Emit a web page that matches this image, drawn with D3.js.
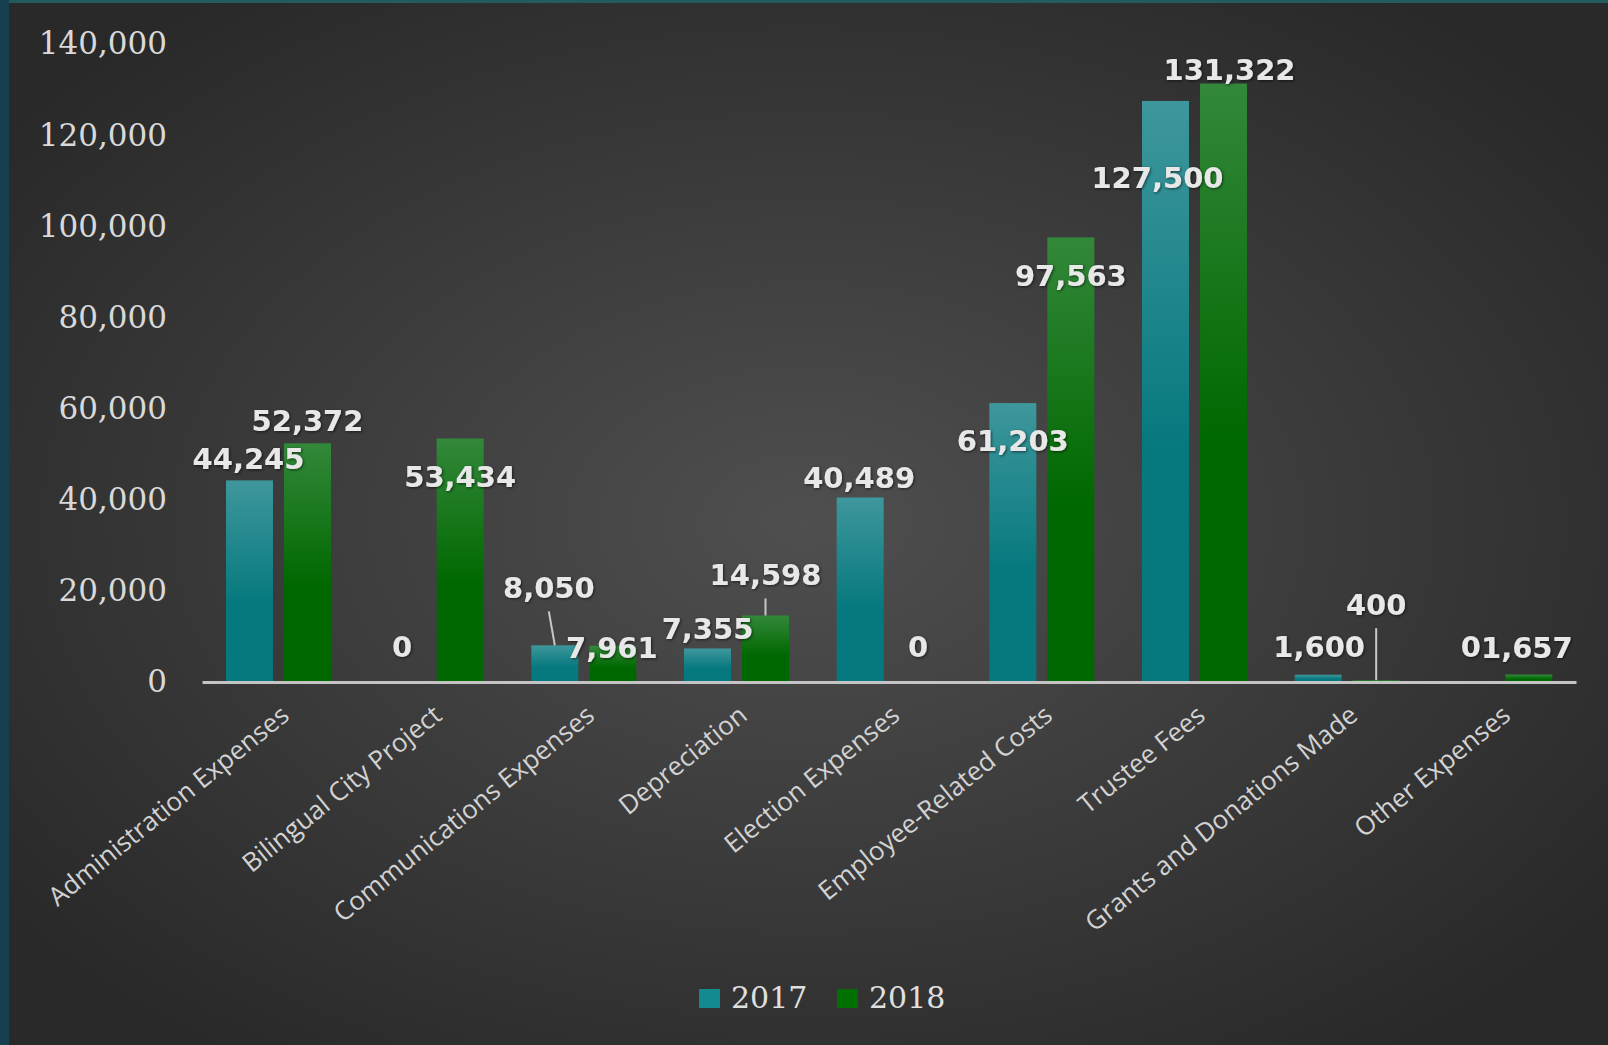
<!DOCTYPE html>
<html>
<head>
<meta charset="utf-8">
<script src="https://cdn.jsdelivr.net/npm/d3@7"></script>
<style>
  body { margin: 0; background: #2b2b2b; }
  svg { display: block; }
</style>
</head>
<body>
<svg id="chart" width="1608" height="1045"></svg>
<script>
var categories = ["Administration Expenses", "Bilingual City Project", "Communications Expenses",
    "Depreciation", "Election Expenses", "Employee-Related Costs", "Trustee Fees",
    "Grants and Donations Made", "Other Expenses"];
var series = ["2017", "2018"];
var values2017 = [44245, 0, 8050, 7355, 40489, 61203, 127500, 1600, 0];
var values2018 = [52372, 53434, 7961, 14598, 0, 97563, 131322, 400, 1657];
var yTicks = [0, 20000, 40000, 60000, 80000, 100000, 120000, 140000];

// label nudges (dx, dy from bar top, leader line) - Excel labels were dragged by hand
var nudge2017 = [[-1, -22], [0, -35], [-6, -58, true], [0, -20], [-1, -20], [0, 37], [-8, 77], [1, -28], [0, -35]];
var nudge2018 = [[0, -23], [0, 38], [-1, 2], [0, -41, true], [0, -35], [0, 38], [6, -14], [0, -76, true], [-2, -27]];

var svg = d3.select("#chart");
var width = 1608, height = 1045;
var defs = svg.append("defs");

var bg = defs.append("radialGradient").attr("id", "bg")
    .attr("cx", "50%").attr("cy", "50%").attr("r", "62%");
bg.append("stop").attr("offset", "0%").attr("stop-color", "#4f4f4f");
bg.append("stop").attr("offset", "100%").attr("stop-color", "#292929");

function barGrad(id, top, bottom) {
    var g = defs.append("linearGradient").attr("id", id)
        .attr("x1", 0).attr("y1", 0).attr("x2", 0).attr("y2", 1);
    g.append("stop").attr("offset", "0%").attr("stop-color", top);
    g.append("stop").attr("offset", "60%").attr("stop-color", bottom);
    g.append("stop").attr("offset", "100%").attr("stop-color", bottom);
}
barGrad("g2017", "#3e979c", "#06797e");
barGrad("g2018", "#33883a", "#006800");

var shadow = defs.append("filter").attr("id", "shadow")
    .attr("x", "-10%").attr("y", "-20%").attr("width", "130%").attr("height", "150%");
shadow.append("feDropShadow").attr("dx", 1).attr("dy", 1).attr("stdDeviation", 1.5)
    .attr("flood-color", "#000").attr("flood-opacity", 0.6);

svg.append("rect").attr("width", width).attr("height", height).attr("fill", "url(#bg)");
svg.append("rect").attr("width", 9).attr("height", height).attr("fill", "#163f4f");
svg.append("rect").attr("x", 9).attr("width", width - 9).attr("height", 3).attr("fill", "#245c5e");

var y = d3.scaleLinear().domain([0, 140000]).range([682, 44]);
var x0 = d3.scaleBand().domain(categories).range([202, 1576]);
var x1 = d3.scaleBand().domain(series).range([24, 129]).paddingInner(0.19);
var fmt = d3.format(",");

// y axis labels (no gridlines in the original)
var yAxis = d3.axisLeft(y).tickValues(yTicks).tickFormat(fmt).tickSize(0).tickPadding(0);
var yg = svg.append("g").attr("transform", "translate(167,0)").call(yAxis);
yg.select(".domain").remove();
yg.selectAll("text")
    .attr("fill", "#d9d9d9")
    .style("font-family", "'DejaVu Serif'")
    .style("font-size", "31px");

// bars
var data = [values2017, values2018];
var groups = svg.selectAll(".cat").data(categories).enter().append("g")
    .attr("class", "cat")
    .attr("transform", function(d) { return "translate(" + x0(d) + ",0)"; });

groups.selectAll("rect").data(function(d, i) {
    return series.map(function(s, j) { return {s: s, v: data[j][i]}; });
}).enter().append("rect")
    .attr("x", function(d) { return x1(d.s); })
    .attr("y", function(d) { return y(d.v); })
    .attr("width", x1.bandwidth())
    .attr("height", function(d) { return y(0) - y(d.v); })
    .attr("fill", function(d) { return "url(#g" + d.s + ")"; });

// x axis
var xAxis = d3.axisBottom(x0).tickSize(0).tickFormat("");
var xg = svg.append("g").attr("transform", "translate(0," + y(0) + ")").call(xAxis);
xg.select(".domain").attr("stroke", "#c4c4c4").attr("stroke-width", 3);

svg.selectAll(".catlabel").data(categories).enter().append("text")
    .attr("class", "catlabel")
    .attr("transform", function(d) {
        return "translate(" + (x0(d) + x0.bandwidth() / 2 + 1) + ",704) rotate(-39)";
    })
    .attr("text-anchor", "end")
    .attr("dy", "0.7em")
    .attr("fill", "#d2d2d2")
    .style("font-family", "'Open Sans'")
    .style("font-size", "26px")
    .text(function(d) { return d; });

// data labels
var labels = [];
categories.forEach(function(c, i) {
    series.forEach(function(s, j) {
        var v = data[j][i];
        var n = (j === 0 ? nudge2017 : nudge2018)[i];
        var bx = x0(c) + x1(s) + x1.bandwidth() / 2;
        labels.push({v: v, bx: bx, by: y(v), x: bx + n[0], y: y(v) + n[1], leader: n[2]});
    });
});

svg.selectAll(".leader").data(labels.filter(function(d) { return d.leader; })).enter()
    .append("line")
    .attr("x1", function(d) { return d.x; })
    .attr("y1", function(d) { return d.y + 24; })
    .attr("x2", function(d) { return d.bx; })
    .attr("y2", function(d) { return d.by; })
    .attr("stroke", "#c8c8c8").attr("stroke-width", 2);

svg.selectAll(".vlabel").data(labels).enter().append("text")
    .attr("class", "vlabel")
    .attr("x", function(d) { return d.x; })
    .attr("y", function(d) { return d.y; })
    .attr("dy", "0.36em")
    .attr("text-anchor", "middle")
    .attr("fill", "#e8e8e8")
    .attr("filter", "url(#shadow)")
    .style("font-family", "'DejaVu Sans'")
    .style("font-weight", "bold")
    .style("font-size", "29px")
    .text(function(d) { return fmt(d.v); });

// legend
var legend = svg.append("g").attr("transform", "translate(699,989)");
var items = legend.selectAll("g").data(series).enter().append("g")
    .attr("transform", function(d, i) { return "translate(" + (i * 138) + ",0)"; });
items.append("rect").attr("width", 21).attr("height", 19)
    .attr("fill", function(d) { return d === "2017" ? "#138a8f" : "#007000"; });
items.append("text").attr("x", 32).attr("y", 19)
    .attr("fill", "#e0e0e0")
    .style("font-family", "'DejaVu Serif'")
    .style("font-size", "30px")
    .text(function(d) { return d; });
</script>
</body>
</html>
